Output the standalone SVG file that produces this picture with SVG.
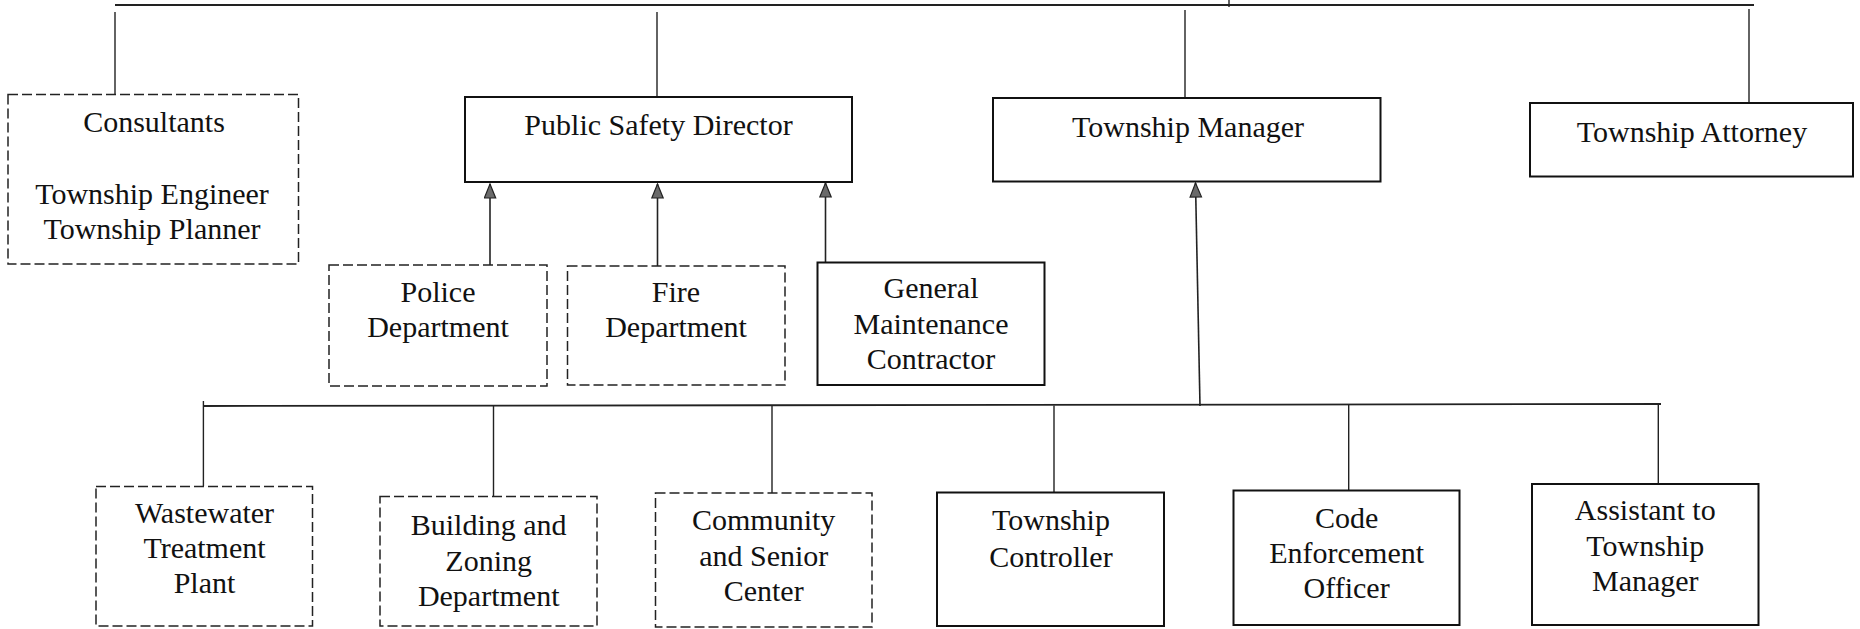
<svg xmlns="http://www.w3.org/2000/svg" width="1860" height="629" viewBox="0 0 1860 629">
<style>
.bg{fill:#fff}
.solid{fill:#fff;stroke:#111;stroke-width:2}
.dash{fill:#fff;stroke:#222;stroke-width:1.5;stroke-dasharray:10 4}
.ln{fill:none;stroke:#222;stroke-width:1.4}
.arr{fill:none;stroke:#222;stroke-width:1.6;marker-end:url(#ah)}
text{font-family:"Liberation Serif","Times New Roman",serif;font-size:30px;fill:#111;text-anchor:middle}
</style>
<defs>
<marker id="ah" markerUnits="userSpaceOnUse" markerWidth="16" markerHeight="14" refX="15" refY="6.5" orient="auto">
<path d="M1 0.8 L15 6.5 L1 12.2 Z" fill="#6a6a6a" stroke="#222" stroke-width="1.2"/>
</marker>
</defs>
<rect class="bg" x="0" y="0" width="1860" height="629"/>
<g id="connectors">
<path class="ln" d="M115 5 H1754" style="stroke-width:1.8"/>
<path class="ln" d="M1229 0 V7"/>
<path class="ln" d="M115 12 V94"/>
<path class="ln" d="M657 12 V97"/>
<path class="ln" d="M1185 10 V98"/>
<path class="ln" d="M1749 9 V103"/>
<path class="arr" d="M490 265 V184"/>
<path class="arr" d="M657.5 266 V184"/>
<path class="arr" d="M825.5 262 V183"/>
<path class="arr" d="M1200 406 L1195.5 183"/>
<path class="ln" d="M203.4 406 L1661 404" style="stroke-width:1.8"/>
<path class="ln" d="M203.4 401 V486"/>
<path class="ln" d="M493.5 406 V496"/>
<path class="ln" d="M772 406 V493"/>
<path class="ln" d="M1054 405.5 V492"/>
<path class="ln" d="M1348.7 405 V490"/>
<path class="ln" d="M1658.3 404 V484"/>
</g>
<g id="consultants">
<rect class="dash" x="8" y="94.5" width="290.5" height="169.5"/>
<text x="154" y="132">Consultants</text>
<text x="152" y="204">Township Engineer</text>
<text x="152" y="239">Township Planner</text>
</g>
<g id="public-safety-director">
<rect class="solid" x="465" y="97" width="387" height="85"/>
<text x="658.5" y="135">Public Safety Director</text>
</g>
<g id="township-manager">
<rect class="solid" x="993" y="98" width="387.5" height="83.5"/>
<text x="1188" y="137">Township Manager</text>
</g>
<g id="township-attorney">
<rect class="solid" x="1530" y="103" width="323" height="73.5"/>
<text x="1692" y="142">Township Attorney</text>
</g>
<g id="police-department">
<rect class="dash" x="329" y="265" width="218" height="121"/>
<text x="438" y="302">Police</text>
<text x="438" y="337">Department</text>
</g>
<g id="fire-department">
<rect class="dash" x="567.5" y="266" width="217.5" height="119"/>
<text x="676" y="302">Fire</text>
<text x="676" y="337">Department</text>
</g>
<g id="general-maintenance-contractor">
<rect class="solid" x="817.5" y="262.5" width="227" height="122.5"/>
<text x="931" y="298">General</text>
<text x="931" y="334">Maintenance</text>
<text x="931" y="369">Contractor</text>
</g>
<g id="wastewater-treatment-plant">
<rect class="dash" x="96" y="486.5" width="216.5" height="139.5"/>
<text x="204.5" y="523">Wastewater</text>
<text x="204.5" y="558">Treatment</text>
<text x="204.5" y="593">Plant</text>
</g>
<g id="building-zoning-department">
<rect class="dash" x="380" y="496.5" width="217" height="129.5"/>
<text x="488.7" y="535">Building and</text>
<text x="488.7" y="571">Zoning</text>
<text x="488.7" y="606">Department</text>
</g>
<g id="community-senior-center">
<rect class="dash" x="655.5" y="493" width="216.5" height="134"/>
<text x="763.7" y="530">Community</text>
<text x="763.7" y="566">and Senior</text>
<text x="763.7" y="601">Center</text>
</g>
<g id="township-controller">
<rect class="solid" x="937" y="492.5" width="227" height="133.5"/>
<text x="1051" y="530">Township</text>
<text x="1051" y="567">Controller</text>
</g>
<g id="code-enforcement-officer">
<rect class="solid" x="1233.5" y="490.5" width="226" height="134.5"/>
<text x="1346.6" y="528">Code</text>
<text x="1346.6" y="563">Enforcement</text>
<text x="1346.6" y="598">Officer</text>
</g>
<g id="assistant-to-township-manager">
<rect class="solid" x="1532" y="484" width="226.5" height="141"/>
<text x="1645.3" y="520">Assistant to</text>
<text x="1645.3" y="556">Township</text>
<text x="1645.3" y="591">Manager</text>
</g>
</svg>
